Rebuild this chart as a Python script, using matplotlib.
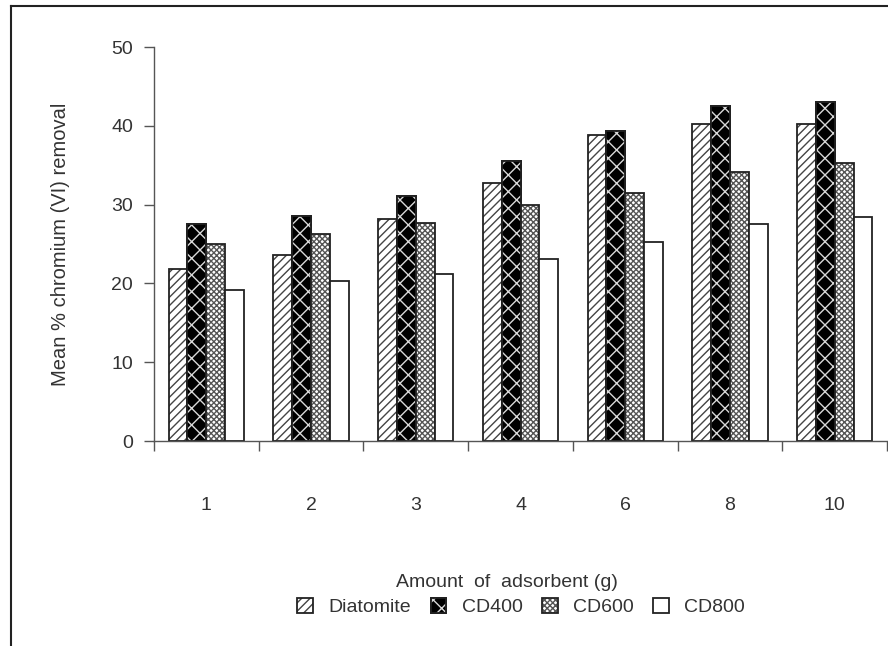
import numpy as np
import matplotlib
matplotlib.use("Agg")
import matplotlib.pyplot as plt
from matplotlib.lines import Line2D

plt.rcParams['font.family'] = ['Liberation Sans', 'DejaVu Sans']
plt.rcParams['hatch.linewidth'] = 1.0

# Mean removal (%) for each adsorbent amount
amounts = ['1', '2', '3', '4', '6', '8', '10']
diatomite = [21.8, 23.6, 28.2, 32.7, 38.8, 40.2, 40.2]
cd400 = [27.5, 28.6, 31.1, 35.5, 39.3, 42.5, 43.0]
cd600 = [25.0, 26.3, 27.7, 29.9, 31.5, 34.1, 35.3]
cd800 = [19.2, 20.3, 21.2, 23.1, 25.2, 27.5, 28.4]
series_names = ['Diatomite', 'CD400', 'CD600', 'CD800']

txt = '#333333'
fig = plt.figure(figsize=(8.88, 6.46), dpi=100)
ax = fig.add_axes([0.1734, 0.3173, 0.8255, 0.6099])

x = np.arange(len(amounts))
w = 0.18
offsets = np.array([-1.5, -0.5, 0.5, 1.5]) * w
edge = '#222222'

b1 = ax.bar(x + offsets[0], diatomite, w, facecolor='white', edgecolor='#444444',
            hatch='////', linewidth=0)
b1o = ax.bar(x + offsets[0], diatomite, w, facecolor='none', edgecolor=edge, linewidth=1.3)

# black bars with a white lattice on top
b2a = ax.bar(x + offsets[1], cd400, w, facecolor='black', edgecolor='black', linewidth=1.3)
b2b = ax.bar(x + offsets[1], cd400, w, facecolor='none', edgecolor='#d8d8d8',
             hatch='xx', linewidth=0)
b2o = ax.bar(x + offsets[1], cd400, w, facecolor='none', edgecolor=edge, linewidth=1.3)

b3 = ax.bar(x + offsets[2], cd600, w, facecolor='white', edgecolor='#555555',
            hatch='xxxxxx', linewidth=0)
b3o = ax.bar(x + offsets[2], cd600, w, facecolor='none', edgecolor=edge, linewidth=1.3)

b4 = ax.bar(x + offsets[3], cd800, w, facecolor='white', edgecolor=edge, linewidth=1.3)

ax.set_xlim(-0.5, len(amounts) - 0.5)
ax.set_ylim(0, 50)
ax.set_yticks(range(0, 51, 10))
ax.tick_params(axis='y', direction='out', length=7, width=1, color='#555555',
               labelsize=14, pad=8, labelcolor=txt)

# category boundaries carry the ticks, labels sit between them
ax.set_xticks(np.arange(len(amounts) + 1) - 0.5)
ax.set_xticklabels([])
ax.set_xticks(x, minor=True)
ax.set_xticklabels(amounts, minor=True)
ax.tick_params(axis='x', which='major', direction='out', length=7, width=1, color='#555555')
ax.tick_params(axis='x', which='minor', length=0, labelsize=14, pad=40, labelcolor=txt)

for s in ['top', 'right']:
    ax.spines[s].set_visible(False)
for s in ['left', 'bottom']:
    ax.spines[s].set_color('#555555')
    ax.spines[s].set_linewidth(1)

ax.set_ylabel('Mean % chromium (VI) removal', fontsize=14.5, color=txt, labelpad=30)
fig.text(0.571, 0.099, 'Amount  of  adsorbent (g)', ha='center', va='center',
         fontsize=14, color=txt)

fig.legend([(b1, b1o), (b2a, b2b, b2o), (b3, b3o), b4], series_names, loc='center',
           bbox_to_anchor=(0.587, 0.06), ncol=4, frameon=False, fontsize=14,
           labelcolor=txt, handlelength=0.8, handleheight=0.8, handletextpad=0.8,
           columnspacing=1.0)

# page frame on the left and top
fig.add_artist(Line2D([11 / 888, 11 / 888], [0, 1 - 6 / 646], transform=fig.transFigure,
                      color='#222222', linewidth=1.5))
fig.add_artist(Line2D([11 / 888, 1], [1 - 6 / 646, 1 - 6 / 646], transform=fig.transFigure,
                      color='#222222', linewidth=1.5))

fig.savefig('out.png', dpi=100)
